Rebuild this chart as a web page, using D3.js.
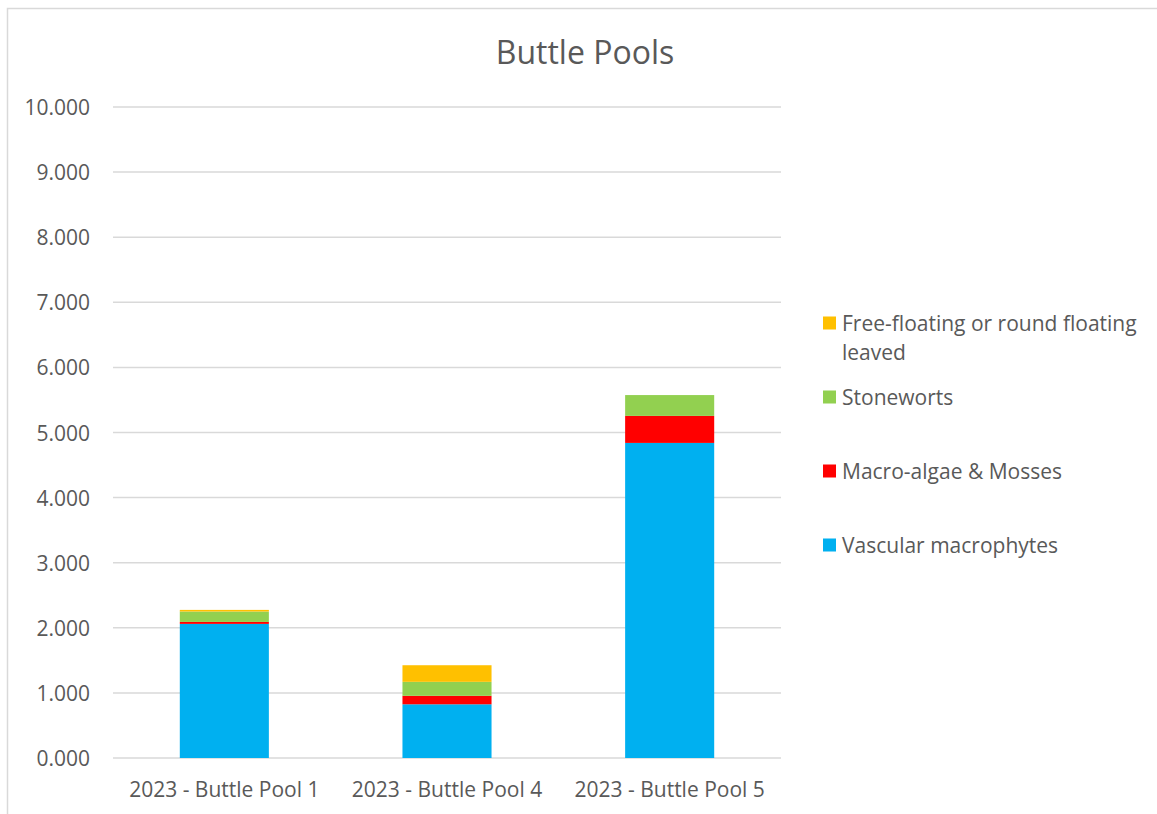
<!DOCTYPE html>
<html>
<head>
<meta charset="utf-8">
<script src="https://cdn.jsdelivr.net/npm/d3@7"></script>
<style>
  html, body { margin: 0; padding: 0; background: #fff; }
  svg { display: block; }
  svg text { font-family: "Open Sans", "Noto Sans", sans-serif; }
</style>
</head>
<body>
<svg id="chart" width="1157" height="814"></svg>
<script>
// Sites along the x axis
const categories = ["2023 - Buttle Pool 1", "2023 - Buttle Pool 4", "2023 - Buttle Pool 5"];

// Stacked series, bottom to top
const seriesNames = ["Vascular macrophytes", "Macro-algae & Mosses", "Stoneworts", "Free-floating or round floating leaved"];
const vascular   = [2.06, 0.825, 4.84];
const macroAlgae = [0.03, 0.13, 0.415];
const stoneworts = [0.16, 0.215, 0.32];
const freeFloat  = [0.025, 0.255, 0.0];

const seriesColors = ["#00B0F0", "#FF0000", "#92D050", "#FFC000"];
const yTicks = [0, 1, 2, 3, 4, 5, 6, 7, 8, 9, 10];

const rows = categories.map((c, i) => ({
  category: c,
  [seriesNames[0]]: vascular[i],
  [seriesNames[1]]: macroAlgae[i],
  [seriesNames[2]]: stoneworts[i],
  [seriesNames[3]]: freeFloat[i]
}));

const svg = d3.select("#chart");
const textColor = "#595959";
const gridColor = "#D9D9D9";
const fontFamily = '"Open Sans", "Noto Sans", sans-serif';

// Chart frame
svg.append("rect")
  .attr("x", 7.5).attr("y", 8.5)
  .attr("width", 1157).attr("height", 814)
  .attr("fill", "none").attr("stroke", gridColor).attr("stroke-width", 1.5);

const plot = { left: 113, right: 781, top: 107, bottom: 758 };

const x = d3.scaleBand()
  .domain(categories)
  .range([plot.left, plot.right])
  .paddingInner(0.6)
  .paddingOuter(0.3);

const y = d3.scaleLinear().domain([0, 10]).range([plot.bottom, plot.top]);

// Gridlines
svg.append("g")
  .selectAll("line")
  .data(yTicks)
  .join("line")
  .attr("x1", plot.left).attr("x2", plot.right)
  .attr("y1", d => y(d)).attr("y2", d => y(d))
  .attr("stroke", gridColor).attr("stroke-width", 1.5);

// Y axis labels
const yAxis = d3.axisLeft(y).tickValues(yTicks).tickFormat(d3.format(".3f")).tickSize(0).tickPadding(0);
const yg = svg.append("g").attr("transform", `translate(90,0)`).call(yAxis)
  .attr("font-family", fontFamily).attr("font-size", 21);
yg.select(".domain").remove();
yg.selectAll("text")
  .attr("fill", textColor)
  .attr("dy", "0.36em");

// X axis labels
const xAxis = d3.axisBottom(x).tickSize(0).tickPadding(0);
const xg = svg.append("g").attr("transform", `translate(0,${plot.bottom})`).call(xAxis)
  .attr("font-family", fontFamily).attr("font-size", 21);
xg.select(".domain").remove();
xg.selectAll("text")
  .attr("fill", textColor)
  .attr("y", 39)
  .attr("dy", 0);

// Stacked bars
const stack = d3.stack().keys(seriesNames);
const stacked = stack(rows);

svg.append("g")
  .selectAll("g")
  .data(stacked)
  .join("g")
  .attr("fill", (d, i) => seriesColors[i])
  .selectAll("rect")
  .data(d => d)
  .join("rect")
  .attr("x", d => x(d.data.category))
  .attr("width", x.bandwidth())
  .attr("y", d => y(d[1]))
  .attr("height", d => y(d[0]) - y(d[1]));

// Title
svg.append("text")
  .attr("x", 585).attr("y", 64)
  .attr("text-anchor", "middle")
  .attr("fill", textColor)
  .attr("font-size", 32)
  .text("Buttle Pools");

// Legend, top entry first
const legendItems = [
  { name: seriesNames[3], color: seriesColors[3], lines: ["Free-floating or round floating", "leaved"], cy: 323 },
  { name: seriesNames[2], color: seriesColors[2], lines: ["Stoneworts"], cy: 397 },
  { name: seriesNames[1], color: seriesColors[1], lines: ["Macro-algae & Mosses"], cy: 471 },
  { name: seriesNames[0], color: seriesColors[0], lines: ["Vascular macrophytes"], cy: 545 }
];

const legend = svg.append("g");
const li = legend.selectAll("g").data(legendItems).join("g");
li.append("rect")
  .attr("x", 823).attr("y", d => d.cy - 6.5)
  .attr("width", 13).attr("height", 13)
  .attr("fill", d => d.color);
li.append("text")
  .attr("fill", textColor)
  .attr("font-size", 21)
  .selectAll("tspan")
  .data(d => d.lines.map((l, k) => ({ l, k, cy: d.cy })))
  .join("tspan")
  .attr("x", 842)
  .attr("y", t => t.cy + t.k * 29)
  .attr("dy", "0.36em")
  .text(t => t.l);
</script>
</body>
</html>
